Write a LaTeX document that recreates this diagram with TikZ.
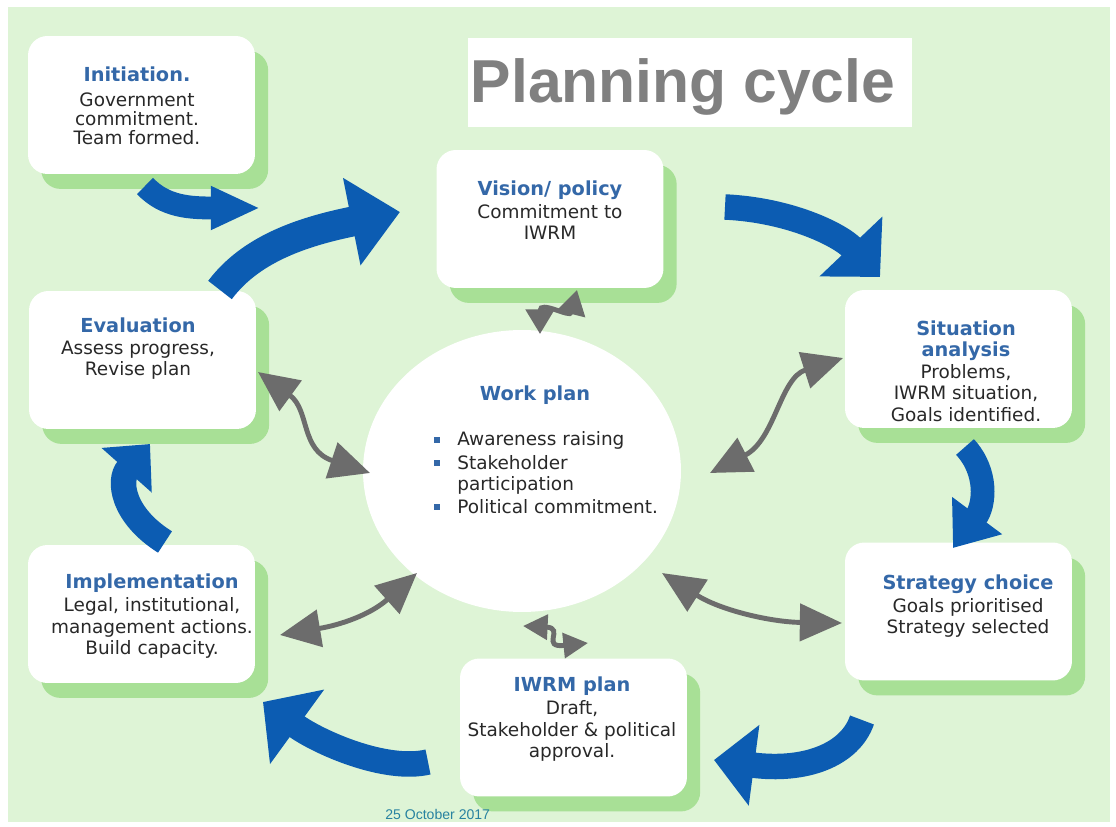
\documentclass[tikz,border=0pt]{standalone}
\usepackage{fontspec}
\setmainfont{DejaVu Sans}
\newfontfamily\headfont{Liberation Sans}
\usetikzlibrary{arrows.meta,shadows,shapes.geometric}
\definecolor{bggreen}{RGB}{222,244,214}
\definecolor{shadowgreen}{RGB}{168,224,150}
\definecolor{arrowblue}{RGB}{12,92,178}
\definecolor{arrowgray}{RGB}{108,108,108}
\definecolor{titleblue}{RGB}{52,104,168}
\definecolor{bodytext}{RGB}{40,40,40}
\definecolor{headgray}{RGB}{128,128,128}
\definecolor{datecol}{RGB}{40,130,160}
\newcommand\boxttl[1]{{\color{titleblue}\fontsize{11}{12}\selectfont\bfseries #1}}
\tikzset{
  stagebox/.style={fill=white, rounded corners=11pt, minimum width=4.54cm, minimum height=2.76cm,
    general shadow={fill=shadowgreen, shadow xshift=7.5pt, shadow yshift=-8.5pt}},
  boxtxt/.style={align=center, text=bodytext, font=\fontsize{10.5}{12.2}\selectfont, inner sep=0pt},
  bluearr/.style={draw=arrowblue, line width=#1},
  grayarr/.style={draw=arrowgray, line width=2.8pt},
  bulletsq/.style={fill=titleblue, minimum size=0.11cm, inner sep=0pt},
  wptxt/.style={anchor=west, text=bodytext, font=\fontsize{10.5}{12}\selectfont, inner sep=0pt},
}
\begin{document}
\begin{tikzpicture}[x=0.02cm,y=-0.02cm]
\useasboundingbox (0,0) rectangle (1116,827);
\fill[white] (0,0) rectangle (1116,827);
\fill[bggreen] (8,7) rectangle (1110,822);

% title
\node[fill=white, minimum width=8.88cm, minimum height=1.78cm, inner sep=0pt] (titlebox) at (690,82.5) {};
\node[anchor=base, text=headgray, font=\headfont\fontsize{34.5}{38}\selectfont\bfseries, inner sep=0pt] (title) at (683,103) {Planning cycle};

% boxes
\node[stagebox] (init) at (141.5,105) {};
\node[stagebox] (vision) at (550,219) {};
\node[stagebox] (situ) at (958.5,359) {};
\node[stagebox] (strat) at (958.5,611.5) {};
\node[stagebox] (iwrm) at (573.5,727.5) {};
\node[stagebox] (impl) at (141.5,614) {};
\node[stagebox] (eval) at (142.5,360) {};

% work plan ellipse
\node[ellipse, fill=white, minimum width=6.36cm, minimum height=5.64cm, inner sep=0pt] (work) at (522,471) {};

% texts
\node[boxtxt, font=\fontsize{10.5}{11}\selectfont] (initT) at (137,106) {\boxttl{Initiation.}\\[3pt] Government\\ commitment.\\ Team formed.};
\node[boxtxt] (visionT) at (550,210) {\boxttl{Vision/ policy}\\[1pt] Commitment to\\ IWRM};
\node[boxtxt] (situT) at (966,371) {\boxttl{Situation}\\ \boxttl{analysis}\\ Problems,\\ IWRM situation,\\ Goals identified.};
\node[boxtxt] (stratT) at (968,606) {\boxttl{Strategy choice}\\[1pt] Goals prioritised\\ Strategy selected};
\node[boxtxt] (iwrmT) at (572,719) {\boxttl{IWRM plan}\\[1pt] Draft,\\ Stakeholder \& political\\ approval.};
\node[boxtxt] (implT) at (152,616) {\boxttl{Implementation}\\[1pt] Legal, institutional,\\ management actions.\\ Build capacity.};
\node[boxtxt] (evalT) at (138,349) {\boxttl{Evaluation}\\ Assess progress,\\ Revise plan};

% work plan text
\node[anchor=center, inner sep=0pt] (workT) at (535,395) {\boxttl{Work plan}};
\node[bulletsq] (b1) at (437,440) {};
\node[bulletsq] (b2) at (437,463) {};
\node[bulletsq] (b3) at (437,507) {};
\node[wptxt] (w1) at (457,440) {Awareness raising};
\node[wptxt] (w2) at (457,463) {Stakeholder};
\node[wptxt] (w3) at (457,485) {participation};
\node[wptxt] (w4) at (457,507) {Political commitment.};

% date
\node[anchor=base west, text=datecol, font=\headfont\fontsize{8}{9}\selectfont, inner sep=0pt] (date) at (385,819) {25 October 2017};

% blue arrow end points
\coordinate (a1s) at (145,186); \coordinate (a1e) at (260,208);
\coordinate (a2s) at (220,290); \coordinate (a2e) at (400,212);
\coordinate (a3s) at (725,207); \coordinate (a3e) at (880,277);
\coordinate (a4s) at (965,447); \coordinate (a4e) at (953,548);
\coordinate (a5s) at (862,720); \coordinate (a5e) at (714,760);
\coordinate (a6s) at (428,762); \coordinate (a6e) at (263,702);
\coordinate (a7s) at (165,542); \coordinate (a7e) at (150,444);

\draw[bluearr=13pt, -{Triangle[length=28pt,width=23pt]}] (a1s) .. controls (165,207) and (190,208) .. (a1e);
\draw[bluearr=17pt, -{Triangle[length=28pt,width=49pt]}] (a2s) .. controls (250,250) and (300,232) .. (a2e);
\draw[bluearr=14.5pt, -{Triangle[length=24pt,width=48pt]}] (a3s) .. controls (790,210) and (840,235) .. (a3e);
\draw[bluearr=13.5pt, -{Triangle[length=23pt,width=34pt]}] (a4s) .. controls (988,472) and (985,505) .. (a4e);
\draw[bluearr=14.5pt, -{Triangle[length=23pt,width=45pt]}] (a5s) .. controls (850,755) and (805,772) .. (a5e);
\draw[bluearr=14.5pt, -{Triangle[length=24pt,width=51pt]}] (a6s) .. controls (385,772) and (318,742) .. (a6e);
\draw[bluearr=14.5pt, -{Triangle[length=20pt,width=37pt]}] (a7s) .. controls (122,515) and (118,480) .. (a7e);

% gray double arrows
\coordinate (g1a) at (540,334); \coordinate (g1b) at (577,290);
\coordinate (g2a) at (710,473); \coordinate (g2b) at (843,358);
\coordinate (g3a) at (662,573); \coordinate (g3b) at (842,623);
\coordinate (g4a) at (523,626); \coordinate (g4b) at (588,643);
\coordinate (g5a) at (280,635); \coordinate (g5b) at (417,573);
\coordinate (g6a) at (258,372); \coordinate (g6b) at (370,473);

\draw[grayarr, {Triangle[length=14pt,width=16pt]}-{Triangle[length=14pt,width=16pt]}] (g1a) .. controls (540,300) and (570,318) .. (g1b);
\draw[grayarr, {Triangle[length=23pt,width=21pt]}-{Triangle[length=23pt,width=21pt]}] (g2a) .. controls (775,440) and (780,378) .. (g2b);
\draw[grayarr, {Triangle[length=24pt,width=21pt]}-{Triangle[length=24pt,width=21pt]}] (g3a) .. controls (720,610) and (770,622) .. (g3b);
\draw[grayarr, {Triangle[length=14pt,width=14pt]}-{Triangle[length=14pt,width=14pt]}] (g4a) .. controls (565,628) and (540,648) .. (g4b);
\draw[grayarr, {Triangle[length=23pt,width=21pt]}-{Triangle[length=23pt,width=21pt]}] (g5a) .. controls (340,625) and (370,615) .. (g5b);
\draw[grayarr, {Triangle[length=23pt,width=21pt]}-{Triangle[length=23pt,width=21pt]}] (g6a) .. controls (310,410) and (300,450) .. (g6b);
\end{tikzpicture}
\end{document}
